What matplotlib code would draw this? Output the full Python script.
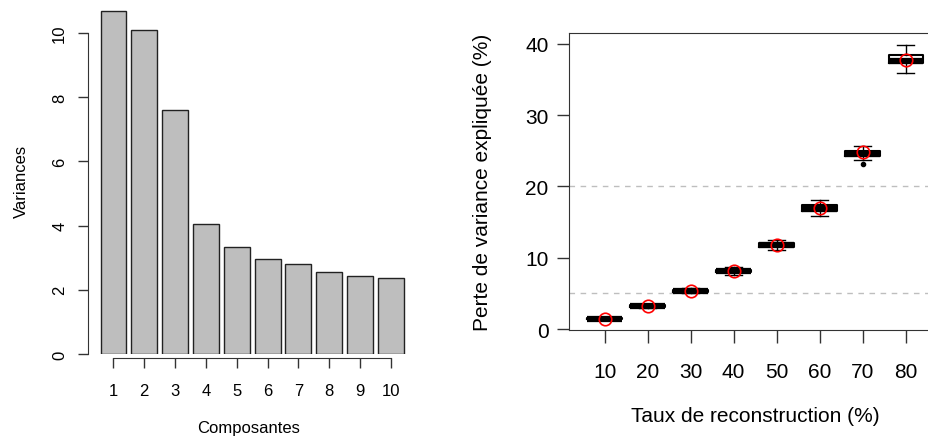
import numpy as np
import matplotlib
matplotlib.use('Agg')
import matplotlib.pyplot as plt

plt.rcParams['font.family'] = ['Liberation Sans', 'DejaVu Sans']

# Left panel: variances of the components
composantes = [1, 2, 3, 4, 5, 6, 7, 8, 9, 10]
variances = [10.7, 10.09, 7.6, 4.06, 3.32, 2.95, 2.80, 2.56, 2.43, 2.36]
var_ticks = [0, 2, 4, 6, 8, 10]

# Right panel: loss of explained variance per reconstruction rate
taux = [10, 20, 30, 40, 50, 60, 70, 80]
whislo = [1.25, 2.95, 5.0, 7.6, 11.1, 15.8, 23.7, 35.9]
q1 = [1.35, 3.08, 5.2, 7.95, 11.55, 16.55, 24.3, 37.3]
med = [1.42, 3.18, 5.35, 8.12, 11.8, 16.9, 24.6, 37.65]
q3 = [1.5, 3.3, 5.5, 8.35, 12.05, 17.35, 24.95, 38.5]
whishi = [1.6, 3.45, 5.7, 8.65, 12.5, 18.1, 25.7, 39.9]
fliers = [[], [], [], [], [], [], [23.2], []]
means = [1.45, 3.22, 5.38, 8.14, 11.84, 16.94, 24.8, 37.75]
seuils = [5, 20]
perte_ticks = [0, 10, 20, 30, 40]

W, H = 929, 439
fig = plt.figure(figsize=(W / 100, H / 100), dpi=100)

def px_axes(x0, y0, x1, y1):
    # pixel box (top-left origin) -> figure fraction axes
    return fig.add_axes([x0 / W, 1 - y1 / H, (x1 - x0) / W, (y1 - y0) / H])

#------------------------------------------------------------------------------
# barplot
#------------------------------------------------------------------------------
ax1 = px_axes(88, 8, 410, 355)
ax1.bar(composantes, variances, width=0.84, color='#bebebe', edgecolor='#222222', linewidth=1.0)
ax1.set_xlim(0.173, 10.62)
ax1.set_ylim(0, (355 - 8) / 32.1)
for s in ['top', 'right']:
    ax1.spines[s].set_visible(False)
ax1.spines['left'].set_bounds(0, 10)
ax1.spines['bottom'].set_bounds(1, 10)
ax1.spines['bottom'].set_position(('outward', 3))
for s in ['left', 'bottom']:
    ax1.spines[s].set_color('#333333')
ax1.set_yticks(var_ticks)
ax1.set_yticklabels([str(v) for v in var_ticks], rotation=90, va='center')
ax1.set_xticks(composantes)
ax1.tick_params(direction='out', length=7, width=1, color='#333333', labelsize=12)
ax1.tick_params(axis='x', pad=11)
ax1.tick_params(axis='y', pad=8)
ax1.set_xlabel('Composantes', fontsize=12, labelpad=16)
ax1.set_ylabel('Variances', fontsize=12, labelpad=17)

#------------------------------------------------------------------------------
# boxplot
#------------------------------------------------------------------------------
ax2 = px_axes(569.3, 34.3, 941, 331)
stats = []
for i in range(len(taux)):
    stats.append(dict(whislo=whislo[i], q1=q1[i], med=med[i], q3=q3[i],
                      whishi=whishi[i], fliers=fliers[i]))
pos = np.arange(1, len(taux) + 1)
for y in seuils:
    ax2.axhline(y, color='#bebebe', linestyle=(0, (4, 4)), linewidth=1, zorder=0)
ax2.bxp(stats, positions=pos, widths=0.8, showcaps=True,
        boxprops=dict(color='black', linewidth=1.5),
        medianprops=dict(color='black', linewidth=4.5, solid_capstyle='butt'),
        whiskerprops=dict(color='black', linewidth=1, linestyle='-'),
        capprops=dict(color='black', linewidth=1),
        flierprops=dict(marker='o', markersize=3, markerfacecolor='black',
                        markeredgecolor='black'),
        capwidths=0.4)
ax2.plot(pos, means, 'o', markersize=9, markerfacecolor='none',
         markeredgecolor='red', markeredgewidth=1.2, zorder=5)
ax2.set_xlim(0.18, 8.82)
ax2.set_ylim(-0.14, 41.5)
ax2.set_xticks(pos)
ax2.set_xticklabels([str(t) for t in taux])
ax2.set_yticks(perte_ticks)
ax2.spines['right'].set_visible(False)
for s in ['left', 'bottom', 'top']:
    ax2.spines[s].set_color('#333333')
ax2.tick_params(direction='out', length=9, width=1, color='#333333', labelsize=15, pad=6)
ax2.tick_params(axis='x', pad=14)
ax2.set_xlabel('Taux de reconstruction (%)', fontsize=15, labelpad=18)
ax2.set_ylabel('Perte de variance expliquée (%)', fontsize=15, labelpad=24)

fig.savefig('out.png', dpi=100)
